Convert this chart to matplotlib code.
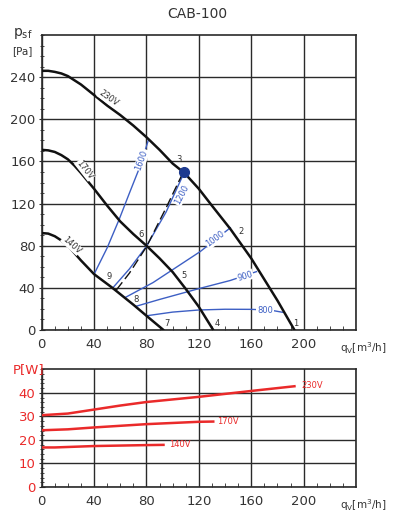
import matplotlib
matplotlib.use("Agg")
import matplotlib.pyplot as plt
from matplotlib.ticker import MultipleLocator

# ---------------- data ----------------
title = "CAB-100"
q_ticks = [0, 40, 80, 120, 160, 200]
p_ticks = [0, 40, 80, 120, 160, 200, 240]
w_ticks = [0, 10, 20, 30, 40]

# fan curves (q [m3/h], psf [Pa])
q230 = [0, 5, 10, 15, 20, 25, 30, 40, 50, 60, 70, 80, 90, 100, 109, 120, 130, 144, 160, 170, 180, 193]
p230 = [246, 246, 245, 243.5, 241, 237, 233, 223, 213, 204, 194, 183, 171, 158, 149, 134, 118, 96, 68, 48, 28, 0]
q170 = [0, 5, 10, 15, 20, 25, 30, 40, 50, 60, 70, 80, 90, 100, 110, 120, 131]
p170 = [171, 170.5, 169, 166, 162, 156, 149, 134, 118, 103, 91, 80, 68, 55, 39, 22, 0]
q140 = [0, 5, 10, 15, 20, 30, 40, 54, 60, 70, 80, 93]
p140 = [92, 91.5, 89, 85, 80, 66, 53, 40, 34, 24, 13.5, 0]

# rpm / system lines
q1600 = [40, 50, 59, 67, 75, 81.4]
p1600 = [53, 78, 104.5, 130, 155, 180]
q1200 = [54, 67, 80, 95, 109]
p1200 = [39.6, 58, 79.5, 112, 150]
q_dash = [57, 67, 80, 95, 107]
p_dash = [38, 54, 79, 116, 147]
q1000 = [64, 85, 121, 144]
p1000 = [31, 45, 74.4, 97]
q900 = [72, 90, 121, 144, 164]
p900 = [22.5, 29, 39.6, 47, 55.4]
q800 = [80, 100, 120, 140, 160, 175, 184]
p800 = [13.5, 17, 19, 19.7, 19.6, 18.8, 16.8]

op_q, op_p = [109], [150]

point_labels = ["1", "2", "3", "4", "5", "6", "7", "8", "9"]
point_q = [194, 152, 105, 134, 109, 75.8, 95.9, 72.4, 51.6]
point_p = [5.7, 93.4, 162, 5.7, 51.3, 90.5, 5.7, 29.2, 50.6]

# power curves (q, P[W])
w230_q = [0, 20, 40, 60, 80, 120, 160, 193]
w230_p = [30.5, 31.2, 32.9, 34.6, 36.1, 38.3, 40.8, 42.8]
w170_q = [0, 20, 40, 80, 120, 131]
w170_p = [24.1, 24.5, 25.3, 26.7, 27.7, 27.8]
w140_q = [0, 10, 40, 80, 93]
w140_p = [16.8, 16.8, 17.4, 17.8, 17.9]

# ---------------- style ----------------
W, H = 393, 522
fig = plt.figure(figsize=(W / 100, H / 100), dpi=100)
plt.rcParams['font.family'] = ['DejaVu Sans']

BLUE = "#3d5fc4"
RED = "#ea2a2a"
TXT = "#333333"
GRID = "#2a2a2a"

left = 41.7 / W
right = 356 / W
ax1 = fig.add_axes([left, 1 - 330 / H, right - left, (330 - 35) / H])
ax2 = fig.add_axes([left, 1 - 487 / H, right - left, (487 - 369.3) / H])


def style(ax, ymax, ymajor, yminor, ycolor):
    ax.set_xlim(0, 240)
    ax.set_ylim(0, ymax)
    ax.set_xticks(q_ticks + [240])
    ax.set_xticklabels([str(v) for v in q_ticks] + [""])
    ax.xaxis.set_minor_locator(MultipleLocator(10))
    ax.yaxis.set_minor_locator(MultipleLocator(yminor))
    ax.grid(True, which="major", color=GRID, lw=1.0)
    for s in ax.spines.values():
        s.set_color(GRID)
        s.set_linewidth(1.2)
    ax.tick_params(axis="x", which="major", direction="in", length=0, pad=6,
                   labelsize=9.5, labelcolor=TXT)
    ax.tick_params(axis="x", which="minor", direction="in", length=3, color=GRID)
    ax.tick_params(axis="y", which="major", direction="inout", length=5, pad=2,
                   labelsize=9.5, labelcolor=ycolor, color=GRID)
    ax.tick_params(axis="y", which="minor", direction="inout", length=3, color=GRID)
    ax.set_axisbelow(True)


style(ax1, 280, 40, 10, TXT)
ax1.set_yticks(p_ticks)
style(ax2, 50, 10, 2, RED)
ax2.set_yticks(w_ticks)

# fan curves
for q, p in [(q230, p230), (q170, p170), (q140, p140)]:
    ax1.plot(q, p, color="#111111", lw=1.8, zorder=4, solid_capstyle="round")

for q, p in [(q1600, p1600), (q1200, p1200), (q1000, p1000), (q900, p900), (q800, p800)]:
    ax1.plot(q, p, color=BLUE, lw=1.0, zorder=3)
ax1.plot(q_dash, p_dash, color="#111111", lw=1.0, dashes=(7, 3), zorder=3)
ax1.plot(op_q, op_p, "o", color="#1d3a8f", ms=7, zorder=6)

# rpm labels
rpm_labels = [("1600", 76.3, 161.5, 70), ("1200", 106.8, 128.3, 62), ("1000", 132.8, 86.2, 36),
              ("900", 155.2, 51.3, 17), ("800", 170.5, 18.3, 0)]
for t, x, y, r in rpm_labels:
    ax1.text(x, y, t, color=BLUE, fontsize=6, rotation=r, ha="center", va="center",
             rotation_mode="anchor", zorder=5,
             bbox=dict(boxstyle="square,pad=0.08", fc="white", ec="none"))

volt_labels = [("230V", 50.8, 220, -35), ("170V", 33, 152, -52), ("140V", 22.8, 80.8, -42)]
for t, x, y, r in volt_labels:
    ax1.text(x, y, t, color=TXT, fontsize=6, rotation=r, ha="center", va="center",
             rotation_mode="anchor", zorder=5,
             bbox=dict(boxstyle="square,pad=0.05", fc="white", ec="none"))

for t, x, y in zip(point_labels, point_q, point_p):
    ax1.text(x, y, t, color=TXT, fontsize=6, ha="center", va="center", zorder=5)

# power curves
for q, p in [(w230_q, w230_p), (w170_q, w170_p), (w140_q, w140_p)]:
    ax2.plot(q, p, color=RED, lw=1.8, zorder=4)
ax2.text(w230_q[-1] + 5, w230_p[-1] + 0.2, "230V", color=RED, fontsize=6, va="center")
ax2.text(w170_q[-1] + 3, w170_p[-1], "170V", color=RED, fontsize=6, va="center")
ax2.text(w140_q[-1] + 4, w140_p[-1], "140V", color=RED, fontsize=6, va="center")

# titles / axis labels
fig.text(197 / W, 1 - 14 / H, title, ha="center", va="center", fontsize=10, color=TXT)
fig.text(13 / W, 1 - 41 / H, r"p$_{\mathrm{sf}}$", ha="left", va="bottom", fontsize=10, color=TXT)
fig.text(12 / W, 1 - 51 / H, "[Pa]", ha="left", va="center", fontsize=7.5, color=TXT)
fig.text(13 / W, 1 - 370 / H, "P[W]", ha="left", va="center", fontsize=9.5, color=RED)
fig.text(340 / W, 1 - 348 / H, r"q$_\mathrm{V}$[m$^3$/h]", ha="left", va="center", fontsize=7.5, color=TXT)
fig.text(340 / W, 1 - 505 / H, r"q$_\mathrm{V}$[m$^3$/h]", ha="left", va="center", fontsize=7.5, color=TXT)

fig.savefig("out.png", dpi=100)
